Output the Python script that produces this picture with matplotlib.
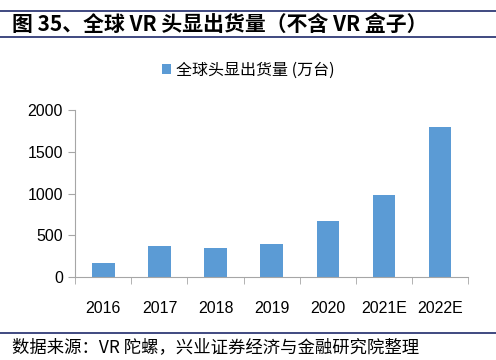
import matplotlib
matplotlib.use('Agg')
import matplotlib.pyplot as plt
import numpy as np

plt.rcParams['font.family'] = ['Noto Sans CJK SC', 'DejaVu Sans']

# data
years = ['2016', '2017', '2018', '2019', '2020', '2021E', '2022E']
shipments = [172, 376, 348, 396, 668, 980, 1796]

fig = plt.figure(figsize=(4.96, 3.6), dpi=100)
ax = fig.add_axes([0.1518, 0.2306, 0.7917, 0.463])

x = np.arange(len(years))
ax.bar(x, shipments, width=0.4, color='#5B9BD5', label='全球头显出货量 (万台)')

ax.set_xlim(-0.5, len(years) - 0.5)
ax.set_ylim(0, 2000)
ax.set_yticks([0, 500, 1000, 1500, 2000])

ax.set_xticks(x)
ax.set_xticklabels(years)
ax.set_xticks(np.arange(-0.5, len(years)), minor=True)
ax.tick_params(axis='x', which='major', length=0, pad=17, labelsize=11.5)
ax.tick_params(axis='x', which='minor', length=5, color='#A6A6A6', direction='out')
ax.tick_params(axis='y', length=5, color='#A6A6A6', labelsize=11.5, pad=4)

for s in ['top', 'right']:
    ax.spines[s].set_visible(False)
for s in ['left', 'bottom']:
    ax.spines[s].set_color('#A6A6A6')

for lbl in ax.get_xticklabels() + ax.get_yticklabels():
    lbl.set_family(['Liberation Sans', 'DejaVu Sans'])

leg = fig.legend(loc='center', bbox_to_anchor=(0.5, 0.805), frameon=False,
                 fontsize=11.5, handlelength=0.6, handleheight=0.6, handletextpad=0.3)

# title and footer with rules
navy = '#1F2A6B'
fig.add_artist(plt.Line2D([0, 1], [1 - 11 / 360, 1 - 11 / 360], color=navy, lw=1.2))
fig.add_artist(plt.Line2D([0, 1], [1 - 37 / 360, 1 - 37 / 360], color=navy, lw=1.2))
fig.text(0.025, 1 - 24 / 360, '图 35、全球 VR 头显出货量（不含 VR 盒子）', fontsize=15,
         fontweight='bold', va='center', ha='left')
fig.add_artist(plt.Line2D([0, 1], [1 - 333 / 360, 1 - 333 / 360], color=navy, lw=1.2))
fig.text(0.025, 1 - 347 / 360, '数据来源：VR 陀螺，兴业证券经济与金融研究院整理', fontsize=12.5,
         va='center', ha='left')

fig.savefig('out.png', dpi=100)
